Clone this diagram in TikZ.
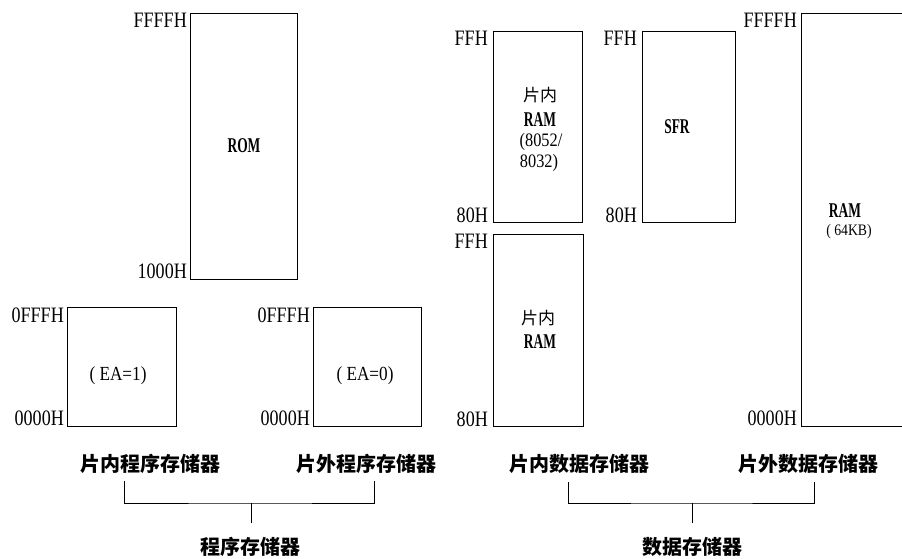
\documentclass[tikz,border=0pt]{standalone}
\usepackage{fontspec}
\setmainfont{Liberation Serif}
\newfontfamily\labfont{Liberation Serif}[FakeStretch=0.82]
\newfontfamily\subfont{Liberation Serif}[FakeStretch=0.86]
\newfontfamily\ttlfont{Liberation Serif}[FakeStretch=0.64]
\newfontfamily\cjk{Noto Sans CJK SC}
\begin{document}
\begin{tikzpicture}[x=1pt,y=-1pt,
  mbox/.style={draw, line width=1pt, inner sep=0pt, anchor=north west},
  addr/.style={font=\labfont\fontsize{22}{22}\selectfont, anchor=east, inner sep=0pt},
  ttl/.style={font=\ttlfont\bfseries\fontsize{21}{21}\selectfont, inner sep=0pt},
  sub/.style={font=\subfont\fontsize{20}{20}\selectfont, inner sep=0pt},
  cn/.style={font=\cjk\bfseries\fontsize{20}{20}\selectfont, inner sep=0pt},
  cnin/.style={font=\cjk\fontsize{17}{17}\selectfont, inner sep=0pt},
  brk/.style={line width=0.8pt}]
\useasboundingbox (0,0) rectangle (902,559);

% program memory boxes
\node[mbox, minimum width=107pt, minimum height=266pt] (rom) at (190,13) {};
\node[ttl] (romt) at (244,146) {ROM};
\node[addr] (romh) at (187,20) {FFFFH};
\node[addr] (roml) at (187,271) {1000H};

\node[mbox, minimum width=109pt, minimum height=119pt] (ea1) at (67,307) {};
\node[sub] (ea1t) at (118,376) {( EA=1)};
\node[addr] (ea1h) at (64,315) {0FFFH};
\node[addr] (ea1l) at (64,418) {0000H};

\node[mbox, minimum width=108pt, minimum height=119pt] (ea0) at (313,307) {};
\node[sub] (ea0t) at (365,376) {( EA=0)};
\node[addr] (ea0h) at (310,315) {0FFFH};
\node[addr] (ea0l) at (310,418) {0000H};

% data memory boxes
\node[mbox, minimum width=89pt, minimum height=191pt] (ram1) at (493,31) {};
\node[cnin] (ram1a) at (540,95) {片内};
\node[ttl] (ram1b) at (540,120) {RAM};
\node[sub, font=\subfont\fontsize{19}{19}\selectfont] (ram1c) at (541,142) {(8052/};
\node[sub, font=\subfont\fontsize{19}{19}\selectfont] (ram1d) at (539,163) {8032)};
\node[addr] (ram1h) at (488,38) {FFH};
\node[addr] (ram1l) at (488,215) {80H};

\node[mbox, minimum width=93pt, minimum height=191pt] (sfr) at (642,31) {};
\node[ttl] (sfrt) at (677,127) {SFR};
\node[addr] (sfrh) at (637,38) {FFH};
\node[addr] (sfrl) at (637,215) {80H};

\node[mbox, minimum width=90pt, minimum height=192pt] (ram2) at (493,234) {};
\node[cnin] (ram2a) at (538,318) {片内};
\node[ttl] (ram2b) at (540,342) {RAM};
\node[addr] (ram2h) at (488,241) {FFH};
\node[addr] (ram2l) at (488,419) {80H};

\node[inner sep=0pt, anchor=north west, minimum width=101pt, minimum height=412pt] (ext) at (801,14) {};
\draw[line width=1pt] (ext.north east) -- (ext.north west) -- (ext.south west) -- (ext.south east);
\node[ttl] (extt) at (845,211) {RAM};
\node[sub, font=\subfont\fontsize{16}{16}\selectfont] (extb) at (849,232) {( 64KB)};
\node[addr] (exth) at (797,20) {FFFFH};
\node[addr] (extl) at (797,418) {0000H};

% bottom captions
\node[cn] (pin) at (150,464) {片内程序存储器};
\node[cn] (pout) at (366,464) {片外程序存储器};
\node[cn] (prog) at (250,547) {程序存储器};
\node[cn] (din) at (579,464) {片内数据存储器};
\node[cn] (dout) at (808,464) {片外数据存储器};
\node[cn] (data) at (692,547) {数据存储器};

% brackets
\coordinate (pl) at (124,481);
\coordinate (pr) at (374,481);
\coordinate (pm) at (251,503);
\coordinate (pb) at (251,523);
\draw[brk] (pl) |- (pm) -| (pr);
\draw[brk] (pm) -- (pb);

\coordinate (dl) at (568,482);
\coordinate (dr) at (814,482);
\coordinate (dm) at (692,503);
\coordinate (db) at (692,523);
\draw[brk] (dl) |- (dm) -| (dr);
\draw[brk] (dm) -- (db);
\end{tikzpicture}
\end{document}
